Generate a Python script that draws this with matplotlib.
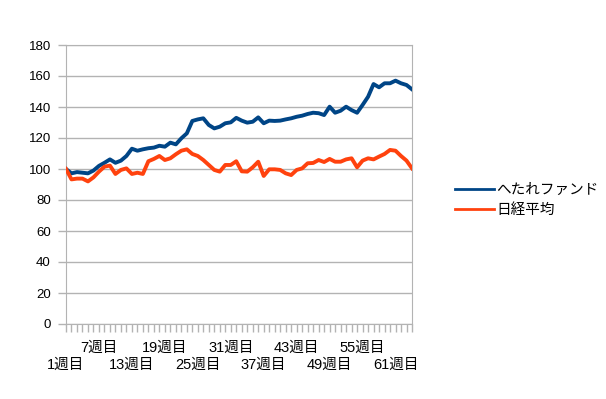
import matplotlib.pyplot as plt
from matplotlib.lines import Line2D

plt.rcParams['font.family'] = ['Liberation Sans', 'Noto Sans CJK JP', 'DejaVu Sans']

# DATA (weekly index, week 1 = 100)
weeks = [f"{i}週目" for i in range(1, 65)]
fund = [100, 97.2, 98, 97.6, 97.2, 99, 102, 104, 106.2, 104, 105.4, 108.4, 113.1, 111.8, 112.7, 113.4,
        113.8, 115, 114.4, 117, 115.9, 119.8, 123, 131, 132, 132.7, 128.4, 126.2, 127.3, 129.5, 130.1, 133,
        131.2, 129.9, 130.5, 133.3, 129.5, 131.2, 131, 131.2, 132, 132.7, 133.7, 134.4, 135.5, 136.3, 136, 134.8,
        140.2, 136.3, 137.6, 140.2, 138, 136.3, 141.3, 146.6, 154.8, 152.7, 155.3, 155.3, 157, 155.3, 154.2, 151.4]
nikkei = [100, 93.3, 93.8, 93.8, 92, 94.6, 98.3, 101.5, 102.2, 96.8, 99.4, 100.4, 96.8, 97.6, 96.8, 105,
          106.5, 108.4, 105.8, 106.9, 109.5, 111.8, 112.7, 109.7, 108.4, 105.8, 102.6, 99.4, 98.3, 102.6, 102.6, 105,
          98.5, 98.3, 101.1, 104.7, 95.5, 99.8, 99.8, 99.4, 97.2, 96.1, 99.4, 100.4, 103.7, 103.9, 105.8, 104.5,
          106.5, 104.7, 104.7, 106.2, 106.9, 101.1, 105.4, 106.9, 106.2, 108, 109.7, 112.3, 111.8, 108.4, 105.4, 100.4]
series_names = ["へたれファンド", "日経平均"]
colors = ["#004586", "#ff420e"]

fig = plt.figure(figsize=(6.06, 3.99), dpi=100)
ax = fig.add_axes([66 / 606, 75 / 399, 346 / 606, 279 / 399])

x = list(range(len(weeks)))
ax.plot(x, fund, color=colors[0], lw=2.8, solid_joinstyle='round', zorder=3)
ax.plot(x, nikkei, color=colors[1], lw=2.8, solid_joinstyle='round', zorder=3)

ax.set_xlim(0, len(weeks) - 1)
ax.set_ylim(0, 180)
ax.set_yticks(range(0, 181, 20))
ax.yaxis.grid(True, color="#b3b3b3", lw=1)
ax.set_axisbelow(True)

# labels every 6 weeks, staggered: lower row on major ticks, upper row on minor ticks
lower = [i for i in x if i % 12 == 0]
other = [i for i in x if i % 12 != 0]
ax.set_xticks(lower)
ax.set_xticklabels([weeks[i] for i in lower], fontsize=10.5)
ax.set_xticks(other, minor=True)
ax.set_xticklabels([weeks[i] if i % 6 == 0 else "" for i in other], minor=True, fontsize=10.5)

for s in ax.spines.values():
    s.set_color("#b3b3b3")
ax.tick_params(axis='both', which='both', color="#b3b3b3", length=6, width=1)
ax.tick_params(axis='y', labelsize=9.5, pad=5)
ax.tick_params(axis='x', which='minor', pad=6)
ax.tick_params(axis='x', which='major', pad=18)

handles = [Line2D([0], [0], color=c, lw=2) for c in colors]
fig.legend(handles, series_names, loc='center left', bbox_to_anchor=(442 / 606, 1 - 200 / 399),
           frameon=False, fontsize=10.5, handlelength=2.7, handletextpad=0.1, labelspacing=0.45)

fig.savefig("out.png", dpi=100)
